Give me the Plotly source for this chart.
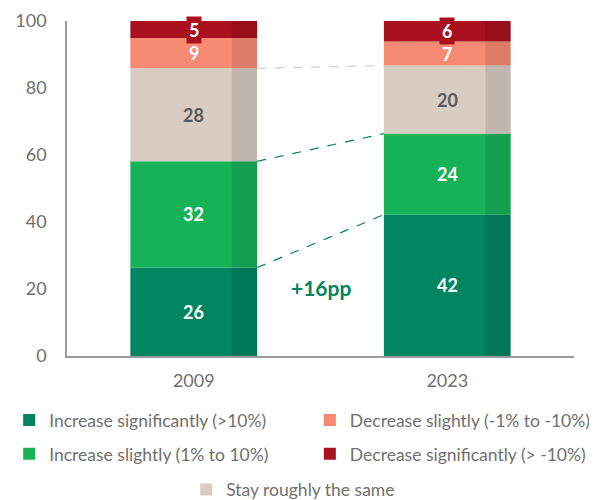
import plotly.graph_objects as go

years = ["2009", "2023"]
series_names = [
    "Increase significantly (>10%)",
    "Increase slightly (1% to 10%)",
    "Stay roughly the same",
    "Decrease slightly (-1% to -10%)",
    "Decrease significantly (> -10%)",
]
inc_sig = [26.4, 42.2]
inc_sli = [31.7, 24.2]
stay = [27.8, 20.3]
dec_sli = [9.0, 7.2]
dec_sig = [5.1, 6.1]

series_values = [inc_sig, inc_sli, stay, dec_sli, dec_sig]
colors = ["#008561", "#15B258", "#D9CCC2", "#F68A72", "#AA111E"]
label_colors = ["white", "white", "#5a5a5a", "white", "white"]
legend_ids = ["legend", "legend", "legend3", "legend2", "legend2"]

BAR_W = 0.5
STRIP_W = 0.1
FONT = "Lato"
LEG_FONT = dict(family=FONT, size=17.5, color="#707070")

fig = go.Figure()

xidx = list(range(len(years)))
bases = [0.0 for _ in years]
cums = []
for k, (name, vals, col, lc, lid) in enumerate(zip(series_names, series_values, colors, label_colors, legend_ids)):
    fig.add_trace(go.Bar(
        x=years, y=vals, base=list(bases), name=name,
        marker=dict(color=col, line=dict(width=0)),
        width=BAR_W, legend=lid, legendgroup=f"g{k}",
        hoverinfo="skip",
    ))
    is_top = name.startswith("Decrease significantly")
    for i in xidx:
        mid = bases[i] + vals[i] / 2
        fig.add_annotation(
            x=i, y=mid, xref="x", yref="y", text=f"<b>{round(vals[i])}</b>", showarrow=False,
            font=dict(family=FONT, size=18, color=lc),
            bgcolor=col if is_top else "rgba(0,0,0,0)", borderpad=2,
        )
    bases = [b + v for b, v in zip(bases, vals)]
    cums.append(list(bases))

totals = bases
# darker right-hand strip over the whole bar
fig.add_trace(go.Bar(
    x=years, y=totals, base=[0, 0], width=STRIP_W,
    offset=BAR_W / 2 - STRIP_W,
    marker=dict(color="rgba(0,0,0,0.1)", line=dict(width=0)),
    showlegend=False, hoverinfo="skip",
))

# connector lines (x as category index)
conn = [(0, "#00845F"), (1, "#00845F"), (2, "#CFCFCF")]
for idx, lcol in conn:
    fig.add_shape(type="line", xref="x", yref="y",
                  x0=0 + BAR_W / 2, y0=cums[idx][0], x1=1 - BAR_W / 2, y1=cums[idx][1],
                  line=dict(color=lcol, width=1.2, dash="dash"), layer="above")

diff = round(inc_sig[1]) - round(inc_sig[0])
fig.add_annotation(x=0.5, y=20.4, xref="x", yref="y", text=f"<b>+{diff}pp</b>",
                   showarrow=False, font=dict(family=FONT, size=21, color="#008561"))

leg_common = dict(orientation="v", xanchor="left", yanchor="top", font=LEG_FONT,
                  traceorder="grouped", tracegroupgap=8, bgcolor="rgba(0,0,0,0)")

fig.update_layout(
    width=597, height=500,
    barmode="overlay",
    plot_bgcolor="white", paper_bgcolor="white",
    margin=dict(l=59, r=31, t=13, b=151.5, autoexpand=False),
    font=dict(family=FONT, color="#707070"),
    xaxis=dict(type="category", showline=True, linecolor="#9a9a9a", linewidth=1.5, ticks="",
               tickfont=dict(size=18, color="#707070"), ticklabelstandoff=8,
               range=[-0.5, 1.5], fixedrange=True),
    yaxis=dict(showline=True, linecolor="#9a9a9a", linewidth=1.5, showgrid=False,
               zeroline=False, range=[0, 100], tickvals=[0, 20, 40, 60, 80, 100],
               tickfont=dict(size=18, color="#707070"), ticks="",
               ticklabelstandoff=15),
    legend=dict(x=-0.114, y=-0.138, **leg_common),
    legend2=dict(x=0.479, y=-0.138, **leg_common),
    legend3=dict(x=0.235, y=-0.345, **leg_common),
    showlegend=True,
)

fig.write_html("out.html")
